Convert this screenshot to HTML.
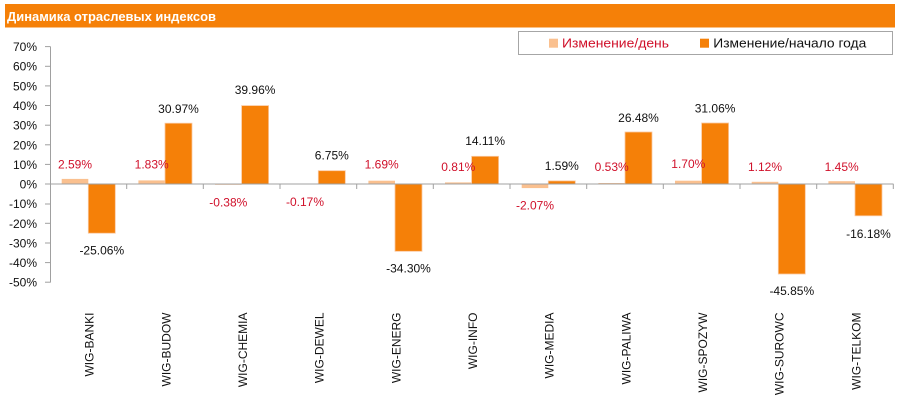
<!DOCTYPE html>
<html><head><meta charset="utf-8"><style>
html,body{margin:0;padding:0;background:#fff;}
svg{display:block;font-family:"Liberation Sans",sans-serif;}
</style></head><body>
<svg width="900" height="409" viewBox="0 0 900 409" xmlns="http://www.w3.org/2000/svg">
<rect x="0" y="0" width="900" height="409" fill="#fff"/>
<rect x="5" y="4" width="890" height="23.5" fill="#F58008"/>
<text x="7" y="21" font-size="13" font-weight="bold" fill="#fff" textLength="209" lengthAdjust="spacingAndGlyphs">Динамика отраслевых индексов</text>

<rect x="518.5" y="31.5" width="374" height="23" fill="#fff" stroke="#A6A6A6" stroke-width="1"/>
<rect x="549" y="38.7" width="9" height="9" fill="#FAC08F"/>
<text x="562" y="47.5" font-size="12.5" fill="#D0102A" textLength="107" lengthAdjust="spacingAndGlyphs">Изменение/день</text>
<rect x="700" y="38.7" width="9" height="9" fill="#F58008"/>
<text x="713.3" y="47.5" font-size="12.5" fill="#111" textLength="153" lengthAdjust="spacingAndGlyphs">Изменение/начало года</text>

<g font-size="12" fill="#111" text-anchor="end">
<text x="37" y="51">70%</text>
<text x="37" y="70.7">60%</text>
<text x="37" y="90.3">50%</text>
<text x="37" y="110">40%</text>
<text x="37" y="129.6">30%</text>
<text x="37" y="149.3">20%</text>
<text x="37" y="168.9">10%</text>
<text x="37" y="188.5">0%</text>
<text x="37" y="208.2">-10%</text>
<text x="37" y="227.8">-20%</text>
<text x="37" y="247.5">-30%</text>
<text x="37" y="267.1">-40%</text>
<text x="37" y="286.7">-50%</text>
</g>
<g stroke="#A0A0A0" stroke-width="1" fill="none">
<line x1="50.5" y1="46.6" x2="50.5" y2="282.5"/>
<line x1="45" y1="46.6" x2="50.5" y2="46.6"/>
<line x1="45" y1="66.3" x2="50.5" y2="66.3"/>
<line x1="45" y1="85.9" x2="50.5" y2="85.9"/>
<line x1="45" y1="105.5" x2="50.5" y2="105.5"/>
<line x1="45" y1="125.2" x2="50.5" y2="125.2"/>
<line x1="45" y1="144.8" x2="50.5" y2="144.8"/>
<line x1="45" y1="164.4" x2="50.5" y2="164.4"/>
<line x1="45" y1="204" x2="50.5" y2="204"/>
<line x1="45" y1="223.3" x2="50.5" y2="223.3"/>
<line x1="45" y1="243" x2="50.5" y2="243"/>
<line x1="45" y1="262.6" x2="50.5" y2="262.6"/>
<line x1="45" y1="282.2" x2="50.5" y2="282.2"/>
</g>

<g id="bars"></g>

<g stroke="#A0A0A0" stroke-width="1" fill="none">
<line x1="45" y1="184" x2="893.5" y2="184"/>
<line x1="126.7" y1="184" x2="126.7" y2="189"/>
<line x1="203.3" y1="184" x2="203.3" y2="189"/>
<line x1="280" y1="184" x2="280" y2="189"/>
<line x1="356.7" y1="184" x2="356.7" y2="189"/>
<line x1="433.3" y1="184" x2="433.3" y2="189"/>
<line x1="510" y1="184" x2="510" y2="189"/>
<line x1="586.7" y1="184" x2="586.7" y2="189"/>
<line x1="663.3" y1="184" x2="663.3" y2="189"/>
<line x1="740" y1="184" x2="740" y2="189"/>
<line x1="816.7" y1="184" x2="816.7" y2="189"/>
<line x1="893.3" y1="184" x2="893.3" y2="189"/>
</g>

<!-- bars: light x0+11.7 w26.7 ; dark x0+38.3 w27 ; y=184-v*1.963 -->
<g>
<!-- BANKI -->
<rect x="61.7" y="178.9" width="26.6" height="5.1" fill="#FAC08F"/>
<rect x="88.3" y="184" width="27" height="49.2" fill="#F58008" stroke="#FAC8A0" stroke-width="0.8"/>
<!-- BUDOW -->
<rect x="138.4" y="180.4" width="26.6" height="3.6" fill="#FAC08F"/>
<rect x="165" y="123.2" width="27" height="60.8" fill="#F58008" stroke="#FAC8A0" stroke-width="0.8"/>
<!-- CHEMIA -->
<rect x="215" y="184" width="26.6" height="0.8" fill="#FAC08F"/>
<rect x="241.6" y="105.6" width="27" height="78.4" fill="#F58008" stroke="#FAC8A0" stroke-width="0.8"/>
<!-- DEWEL -->
<rect x="291.7" y="184" width="26.6" height="0.4" fill="#FAC08F"/>
<rect x="318.3" y="170.7" width="27" height="13.3" fill="#F58008" stroke="#FAC8A0" stroke-width="0.8"/>
<!-- ENERG -->
<rect x="368.4" y="180.7" width="26.6" height="3.3" fill="#FAC08F"/>
<rect x="395" y="184" width="27" height="67.3" fill="#F58008" stroke="#FAC8A0" stroke-width="0.8"/>
<!-- INFO -->
<rect x="445" y="182.4" width="26.6" height="1.6" fill="#FAC08F"/>
<rect x="471.6" y="156.3" width="27" height="27.7" fill="#F58008" stroke="#FAC8A0" stroke-width="0.8"/>
<!-- MEDIA -->
<rect x="521.7" y="184" width="26.6" height="4.1" fill="#FAC08F"/>
<rect x="548.3" y="180.9" width="27" height="3.1" fill="#F58008" stroke="#FAC8A0" stroke-width="0.8"/>
<!-- PALIWA -->
<rect x="598.4" y="183" width="26.6" height="1" fill="#FAC08F"/>
<rect x="625" y="132" width="27" height="52" fill="#F58008" stroke="#FAC8A0" stroke-width="0.8"/>
<!-- SPOZYW -->
<rect x="675" y="180.7" width="26.6" height="3.3" fill="#FAC08F"/>
<rect x="701.6" y="123" width="27" height="61" fill="#F58008" stroke="#FAC8A0" stroke-width="0.8"/>
<!-- SUROWC -->
<rect x="751.7" y="181.8" width="26.6" height="2.2" fill="#FAC08F"/>
<rect x="778.3" y="184" width="27" height="90" fill="#F58008" stroke="#FAC8A0" stroke-width="0.8"/>
<!-- TELKOM -->
<rect x="828.4" y="181.2" width="26.6" height="2.8" fill="#FAC08F"/>
<rect x="855" y="184" width="27" height="31.8" fill="#F58008" stroke="#FAC8A0" stroke-width="0.8"/>
</g>
<line x1="45" y1="184" x2="893.5" y2="184" stroke="#A0A0A0" stroke-width="1"/>

<!-- data labels -->
<g font-size="12" text-anchor="middle">
<g fill="#D0102A">
<text x="75" y="168.5">2.59%</text>
<text x="151.7" y="168.5">1.83%</text>
<text x="228.3" y="206.5">-0.38%</text>
<text x="305" y="206">-0.17%</text>
<text x="381.7" y="168.5">1.69%</text>
<text x="458.3" y="171">0.81%</text>
<text x="535" y="209.5">-2.07%</text>
<text x="611.7" y="171">0.53%</text>
<text x="688.3" y="168">1.70%</text>
<text x="765" y="171">1.12%</text>
<text x="841.7" y="171">1.45%</text>
</g>
<g fill="#111">
<text x="101.8" y="254.5">-25.06%</text>
<text x="178.5" y="113">30.97%</text>
<text x="255.1" y="94">39.96%</text>
<text x="331.8" y="159.5">6.75%</text>
<text x="408.5" y="272.5">-34.30%</text>
<text x="485.1" y="145">14.11%</text>
<text x="561.8" y="170">1.59%</text>
<text x="638.5" y="122">26.48%</text>
<text x="715.1" y="112.5">31.06%</text>
<text x="791.8" y="295">-45.85%</text>
<text x="868.5" y="238">-16.18%</text>
</g>
</g>

<!-- category labels -->
<g font-size="12" fill="#111" text-anchor="end">
<text transform="translate(93.6,312.5) rotate(-90)">WIG-BANKI</text>
<text transform="translate(170.3,312.5) rotate(-90)">WIG-BUDOW</text>
<text transform="translate(246.9,312.5) rotate(-90)">WIG-CHEMIA</text>
<text transform="translate(323.6,312.5) rotate(-90)">WIG-DEWEL</text>
<text transform="translate(400.3,312.5) rotate(-90)">WIG-ENERG</text>
<text transform="translate(476.9,312.5) rotate(-90)">WIG-INFO</text>
<text transform="translate(553.6,312.5) rotate(-90)">WIG-MEDIA</text>
<text transform="translate(630.3,312.5) rotate(-90)">WIG-PALIWA</text>
<text transform="translate(706.9,312.5) rotate(-90)">WIG-SPOZYW</text>
<text transform="translate(783.6,312.5) rotate(-90)">WIG-SUROWC</text>
<text transform="translate(860.3,312.5) rotate(-90)">WIG-TELKOM</text>
</g>
</svg>
</body></html>
